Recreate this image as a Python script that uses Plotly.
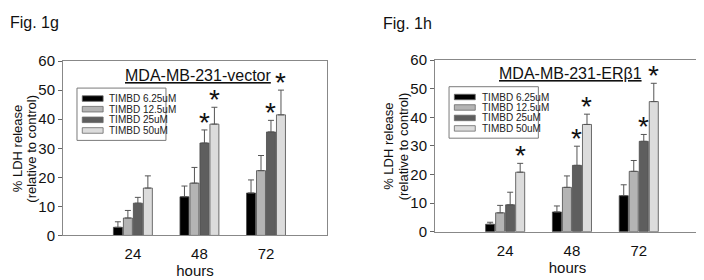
import plotly.graph_objects as go

# ---------------- data ----------------
hours = [24, 48, 72]
hour_labels = ["24", "48", "72"]
series_names = ["TIMBD 6.25uM", "TIMBD 12.5uM", "TIMBD 25uM", "TIMBD 50uM"]
series_colors = ["#000000", "#b4b4b4", "#5e5e5e", "#dcdcdc"]
y_title_lines = ["% LDH release", "(relative to control)"]
x_title = "hours"

# Fig. 1g  MDA-MB-231-vector
vec_625 = [2.8, 13.3, 14.6]
vec_125 = [6.0, 18.0, 22.3]
vec_25 = [11.1, 31.8, 35.6]
vec_50 = [16.3, 38.3, 41.5]
vec_err_625 = [1.9, 3.7, 4.5]
vec_err_125 = [2.6, 5.4, 5.2]
vec_err_25 = [2.0, 4.5, 4.0]
vec_err_50 = [4.2, 5.8, 8.5]
vec_sig_625 = [False, False, False]
vec_sig_125 = [False, False, False]
vec_sig_25 = [False, True, True]
vec_sig_50 = [False, True, True]

# Fig. 1h  MDA-MB-231-ERβ1
erb_625 = [2.6, 6.9, 12.6]
erb_125 = [6.6, 15.5, 21.1]
erb_25 = [9.4, 23.2, 31.6]
erb_50 = [20.8, 37.5, 45.5]
erb_err_625 = [0.7, 2.1, 3.8]
erb_err_125 = [2.6, 4.0, 3.8]
erb_err_25 = [4.4, 6.7, 2.4]
erb_err_50 = [3.1, 3.6, 6.4]
erb_sig_625 = [False, False, False]
erb_sig_125 = [False, False, False]
erb_sig_25 = [False, True, True]
erb_sig_50 = [True, True, True]

y_ticks = [0, 10, 20, 30, 40, 50, 60]

panels = [
    dict(title="MDA-MB-231-vector", label="Fig. 1g",
         means=[vec_625, vec_125, vec_25, vec_50],
         errs=[vec_err_625, vec_err_125, vec_err_25, vec_err_50],
         sigs=[vec_sig_625, vec_sig_125, vec_sig_25, vec_sig_50]),
    dict(title="MDA-MB-231-ERβ1", label="Fig. 1h",
         means=[erb_625, erb_125, erb_25, erb_50],
         errs=[erb_err_625, erb_err_125, erb_err_25, erb_err_50],
         sigs=[erb_sig_625, erb_sig_125, erb_sig_25, erb_sig_50]),
]

# ---------------- figure ----------------
OFF = 8                      # default page margin before the plot div
W, H = 704 - OFF, 280 - OFF
FONT = "Liberation Sans, Arial, sans-serif"
BARGAP = 0.4
BARGROUPGAP = 0.1
step = hours[1] - hours[0]
slot = step * (1 - BARGAP) / len(series_names)

# plot areas in page pixels (left, right, top, bottom)
areas = [(63, 327, 55, 241), (435, 700, 54, 237)]
label_pos = [(8, 14), (381, 15)]
ytitle_x = [(17, 31.5), (389, 403.5)]


def px_x(x):
    return (x - OFF) / W


def px_y(y):
    return 1 - (y - OFF) / H


fig = go.Figure()
annotations = []
shapes = []

for p, (panel, area) in enumerate(zip(panels, areas)):
    xa = "x" if p == 0 else "x2"
    ya = "y" if p == 0 else "y2"
    l, r, t, b = area
    for i, name in enumerate(series_names):
        fig.add_trace(go.Bar(
            x=hours, y=panel["means"][i], name=name,
            xaxis=xa, yaxis=ya, showlegend=False,
            marker=dict(color=series_colors[i], line=dict(color="#4a4a4a", width=0.8)),
            error_y=dict(type="data", symmetric=False, array=panel["errs"][i],
                         arrayminus=[0] * len(hours), color="#555555",
                         thickness=1, width=3),
            offsetgroup=str(i),
        ))
        for h, m, e, s in zip(hours, panel["means"][i], panel["errs"][i], panel["sigs"][i]):
            if s:
                annotations.append(dict(
                    x=h + (i - (len(series_names) - 1) / 2) * slot, y=m + e,
                    xref=xa, yref=ya, text="*", showarrow=False,
                    xanchor="center", yanchor="bottom", yshift=-10,
                    font=dict(family=FONT, size=28, color="#111111")))
    # underlined panel title
    annotations.append(dict(
        x=0.51, y=0.92, xref=f"{xa} domain", yref=f"{ya} domain",
        text=f"<u>{panel['title']}</u>", showarrow=False,
        xanchor="center", yanchor="middle",
        font=dict(family=FONT, size=16, color="#111111")))
    # figure label
    lx, ly = label_pos[p]
    annotations.append(dict(
        x=px_x(lx), y=px_y(ly), xref="paper", yref="paper",
        text=panel["label"], showarrow=False, xanchor="left", yanchor="middle",
        font=dict(family=FONT, size=16, color="#111111")))
    # y-axis title (two rotated lines)
    for k, line in enumerate(y_title_lines):
        annotations.append(dict(
            x=px_x(ytitle_x[p][k]), y=px_y((t + b) / 2 + 1), xref="paper", yref="paper",
            text=line, showarrow=False, textangle=-90,
            xanchor="center", yanchor="middle",
            font=dict(family=FONT, size=13, color="#111111")))
    # legend box
    shapes.append(dict(type="rect", xref=f"{xa} domain", yref=f"{ya} domain",
                       x0=0.053, x1=0.39, y0=0.545, y1=0.845,
                       line=dict(color="#7a7a7a", width=1), fillcolor="white", layer="above"))
    row_y = [0.785, 0.724, 0.663, 0.602]
    for i, name in enumerate(series_names):
        shapes.append(dict(type="rect", xref=f"{xa} domain", yref=f"{ya} domain",
                           x0=0.073, x1=0.152, y0=row_y[i] - 0.016, y1=row_y[i] + 0.016,
                           line=dict(color="#6a6a6a", width=0.8),
                           fillcolor=series_colors[i], layer="above"))
        annotations.append(dict(
            x=0.168, y=row_y[i], xref=f"{xa} domain", yref=f"{ya} domain",
            text=name, showarrow=False, xanchor="left", yanchor="middle",
            font=dict(family=FONT, size=10, color="#222222")))


def xaxis_cfg(area, anchor):
    l, r, t, b = area
    return dict(domain=[px_x(l), px_x(r)], anchor=anchor, range=[-1.2, 94],
                tickvals=hours, ticktext=hour_labels,
                ticks="outside", ticklen=5, tickcolor="rgba(0,0,0,0)",
                showline=True, linecolor="#888888", linewidth=1, mirror=True,
                showgrid=False, zeroline=False,
                tickfont=dict(family=FONT, size=15, color="#111111"),
                title=dict(text=x_title, standoff=1,
                           font=dict(family=FONT, size=15, color="#111111")))


def yaxis_cfg(area, anchor):
    l, r, t, b = area
    return dict(domain=[px_y(b), px_y(t)], anchor=anchor, range=[0, 60],
                tickvals=y_ticks, ticks="outside", ticklen=4, tickcolor="#666666",
                showline=True, linecolor="#888888", linewidth=1, mirror=True,
                showgrid=False, zeroline=False,
                tickfont=dict(family=FONT, size=15, color="#111111"))


fig.update_layout(
    width=W, height=H,
    margin=dict(l=0, r=0, t=0, b=0),
    paper_bgcolor="white", plot_bgcolor="white",
    barmode="group", bargap=BARGAP, bargroupgap=BARGROUPGAP,
    xaxis=xaxis_cfg(areas[0], "y"), yaxis=yaxis_cfg(areas[0], "x"),
    xaxis2=xaxis_cfg(areas[1], "y2"), yaxis2=yaxis_cfg(areas[1], "x2"),
    annotations=annotations, shapes=shapes,
    showlegend=False,
)

fig.write_html("out.html")
